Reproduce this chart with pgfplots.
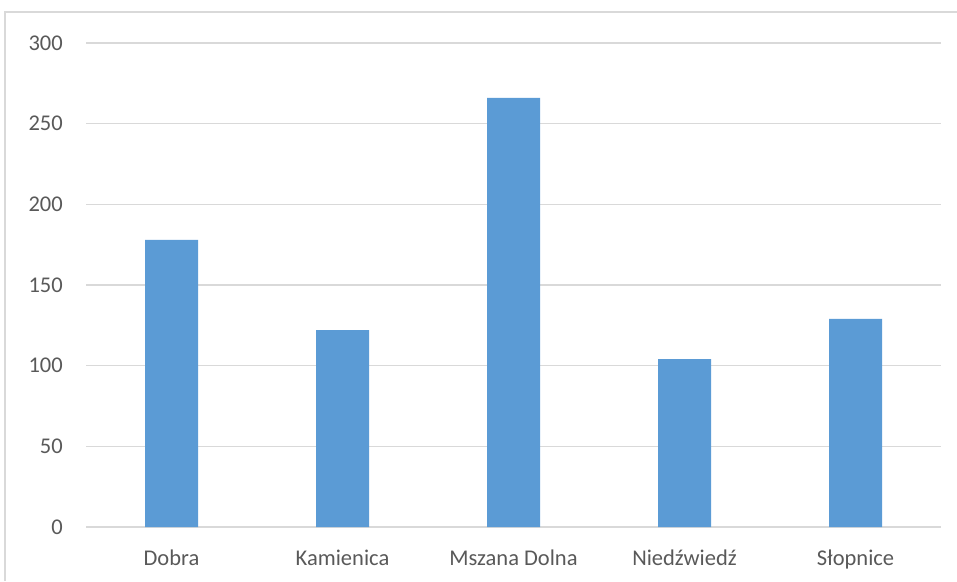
\documentclass[border=0pt]{standalone}
\usepackage{pgfplots}
\pgfplotsset{compat=1.18}
\usepackage{fontspec}
\setmainfont{Carlito}
\definecolor{barblue}{HTML}{5B9BD5}
\definecolor{gridgray}{HTML}{D9D9D9}
\definecolor{textgray}{HTML}{595959}
\begin{document}
\begin{tikzpicture}[x=1pt,y=1pt]
\useasboundingbox (0,0) rectangle (957,581);
\draw[gridgray, line width=1.2pt] (5,0) -- (5,569) -- (957,569);
\begin{axis}[
  at={(86pt,54pt)}, anchor=south west,
  scale only axis, width=855pt, height=484pt,
  xmin=-0.5, xmax=4.5, ymin=0, ymax=300,
  ytick={0,50,...,300},
  xtick=data,
  xticklabels={Dobra,Kamienica,Mszana Dolna,Niedźwiedź,Słopnice},
  ymajorgrids, grid style={gridgray, line width=1.3pt},
  axis line style={draw=none},
  major tick length=0pt,
  /pgf/number format/assume math mode=true,
  tick label style={text=textgray, font=\fontsize{22.5}{26}\selectfont, inner sep=0pt},
  yticklabel style={anchor=east, xshift=-23pt},
  xticklabel style={anchor=base, yshift=-38pt},
  ybar, bar width=53pt,
  clip=false,
]
\addplot[fill=barblue, draw=none] coordinates {(0,178) (1,122) (2,266) (3,104) (4,129)};
\end{axis}
\end{tikzpicture}
\end{document}
